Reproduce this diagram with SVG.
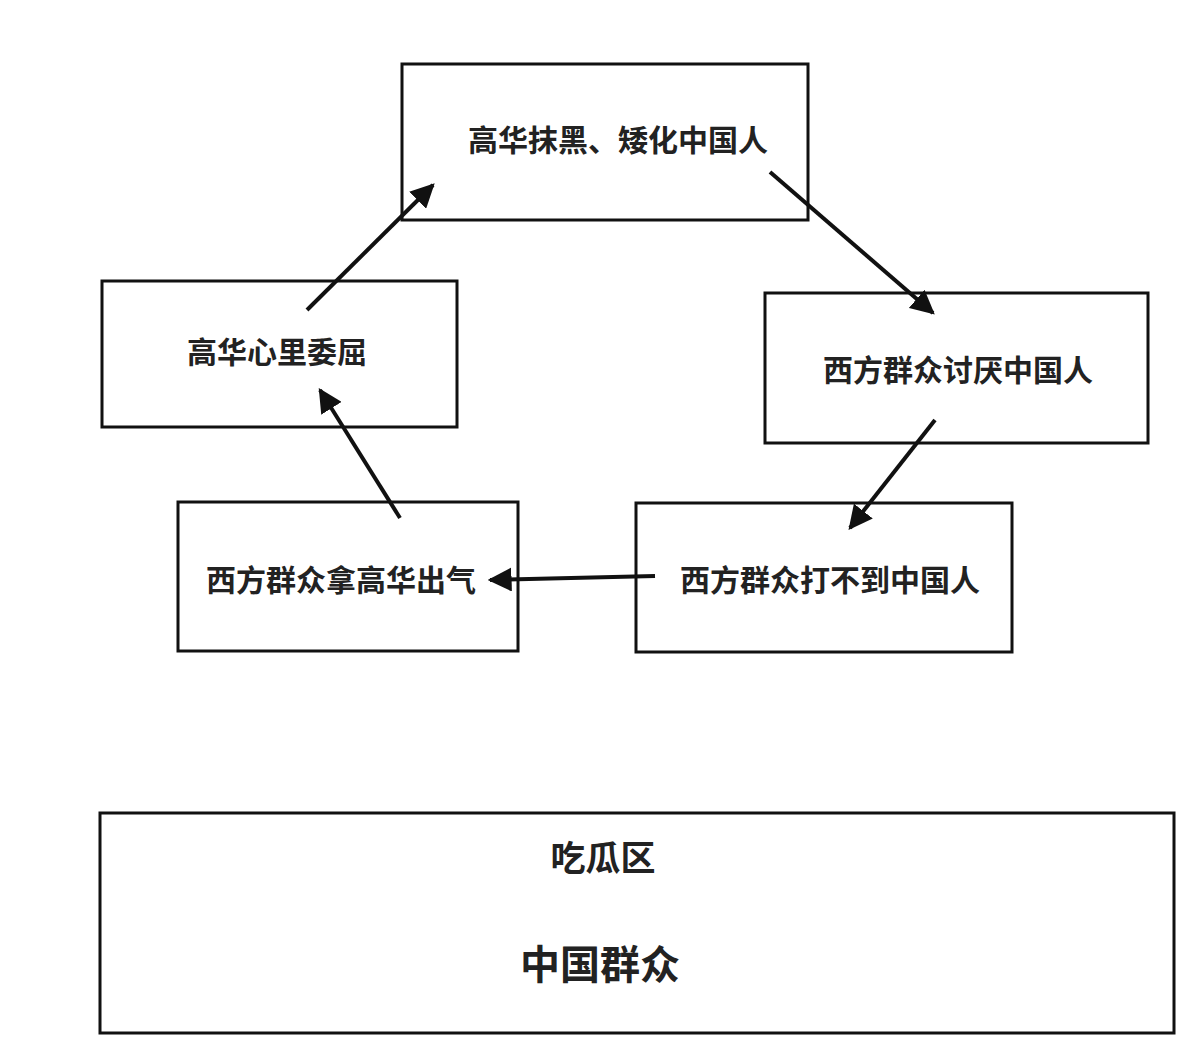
<svg xmlns="http://www.w3.org/2000/svg" width="1200" height="1044" viewBox="0 0 1200 1044">
<style>
.b{fill:#fff;stroke:#111;stroke-width:3}
.t{font-family:"Liberation Sans","Noto Sans CJK SC",sans-serif;font-weight:bold;font-size:30px;fill:#222;text-anchor:middle;dominant-baseline:central}
.c{stroke:#111;stroke-width:4;fill:none;marker-end:url(#a)}
</style>
<defs><marker id="a" viewBox="0 0 10 10" refX="9" refY="5" markerWidth="6" markerHeight="6" orient="auto" markerUnits="strokeWidth"><path d="M0,0L10,5L0,10Z" fill="#111"/></marker></defs>
<rect width="1200" height="1044" fill="#fff"/>
<g id="n1"><rect class="b" x="402" y="64" width="406" height="156"/><text class="t" x="618" y="140">高华抹黑、矮化中国人</text></g>
<g id="n2"><rect class="b" x="765" y="293" width="383" height="150"/><text class="t" x="958" y="370">西方群众讨厌中国人</text></g>
<g id="n3"><rect class="b" x="636" y="503" width="376" height="149"/><text class="t" x="830" y="580">西方群众打不到中国人</text></g>
<g id="n4"><rect class="b" x="178" y="502" width="340" height="149"/><text class="t" x="341" y="580">西方群众拿高华出气</text></g>
<g id="n5"><rect class="b" x="102" y="281" width="355" height="146"/><text class="t" x="277" y="352">高华心里委屈</text></g>
<g id="n6"><rect class="b" x="100" y="813" width="1074" height="220"/><text class="t" x="603" y="858" style="font-size:35px">吃瓜区</text><text class="t" x="600" y="965" style="font-size:40px">中国群众</text></g>
<g id="connectors">
<line class="c" x1="307" y1="310" x2="433" y2="185"/>
<line class="c" x1="770" y1="172" x2="933" y2="313"/>
<line class="c" x1="935" y1="420" x2="850" y2="528"/>
<line class="c" x1="655" y1="576" x2="490" y2="580"/>
<line class="c" x1="400" y1="518" x2="320" y2="390"/>
</g>
</svg>
